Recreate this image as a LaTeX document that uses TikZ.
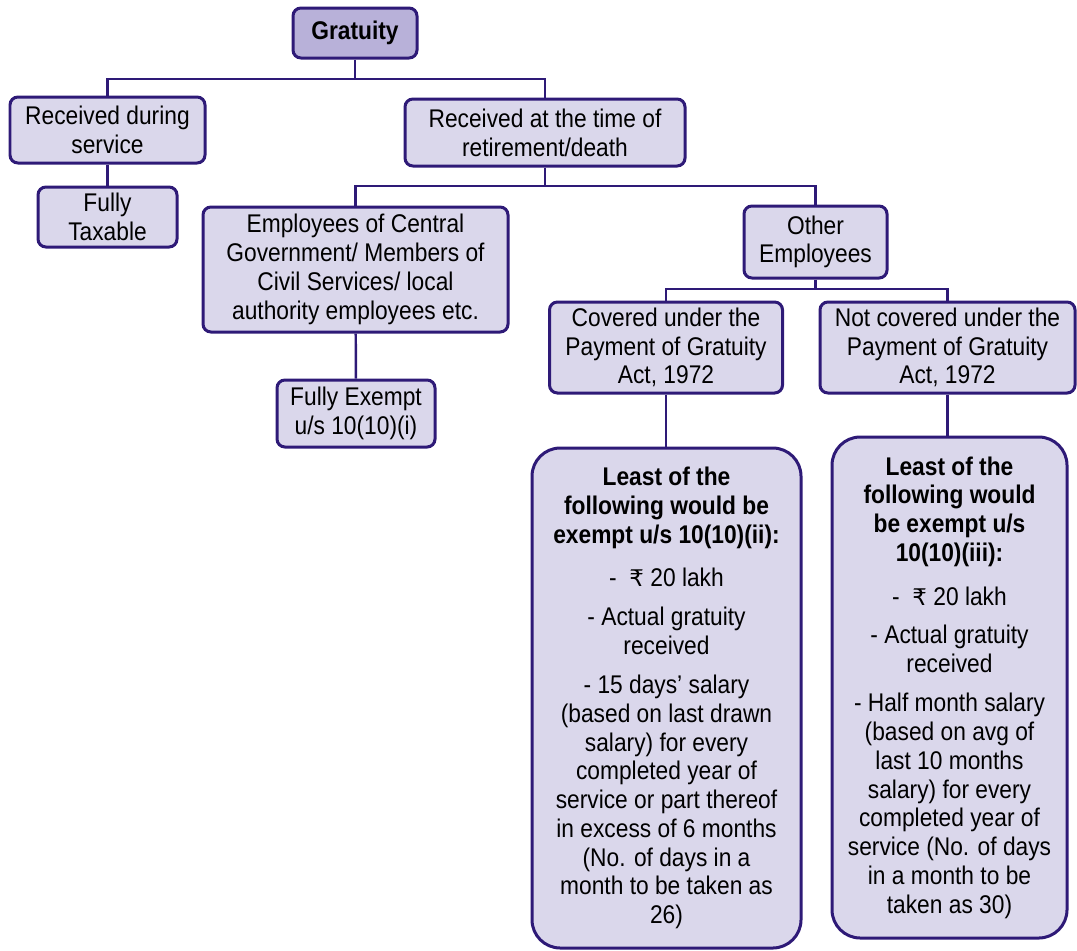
\documentclass[tikz,border=0pt]{standalone}
\usepackage{fontspec}
\setmainfont{Liberation Sans}[FakeStretch=0.89]
\newfontfamily\rupeefont{DejaVu Sans}
\usepackage{tikz}
\usetikzlibrary{calc}
\definecolor{navy-line}{HTML}{2E1A77}
\definecolor{lilac-fill}{HTML}{DAD7EB}
\definecolor{lilac-dark}{HTML}{B8B1D9}
\newcommand{\pu}{0.5669pt}
\newcommand{\rupee}{{\rupeefont\fontsize{13pt}{15pt}\selectfont ₹}}

\begin{document}
\begin{tikzpicture}[x=0.5669pt,y=-0.5669pt,
		card/.style 2 args={draw=navy-line,line width=1.7pt,fill=lilac-fill,
			rounded corners=4.5pt,inner sep=0pt,align=center,
			minimum width=#1*\pu,minimum height=#2*\pu,
			font=\fontsize{14.5pt}{16.3pt}\selectfont},
		bigcard/.style 2 args={card={#1}{#2},rounded corners=16pt},
		link/.style={draw=navy-line,line width=1.4pt}]
	\useasboundingbox (0,0) rectangle (1077,950);

	% Top level
	\node[card={124}{50},fill=lilac-dark,font=\fontsize{14.5pt}{16.3pt}\selectfont\bfseries]
		(gratuity) at (355,33) {Gratuity};
	\node[card={195}{66}] (during) at (107.5,130) {Received during\\service};
	\node[card={139}{60}] (taxable) at (107.5,217) {Fully\\Taxable};
	\node[card={280}{67}] (retire) at (545,132.5) {Received at the time of\\retirement/death};

	% Retirement branch
	\node[card={305}{125}] (govt) at (355.5,269.5)
		{Employees of Central\\Government/ Members of\\Civil Services/ local\\authority employees etc.};
	\node[card={158}{67}] (exempt) at (356,413.5) {Fully Exempt\\u/s 10(10)(i)};
	\node[card={143}{72}] (other) at (815.5,242) {Other\\Employees};
	\node[card={233}{91}] (covered) at (666,347.5) {Covered under the\\Payment of Gratuity\\Act, 1972};
	\node[card={255}{91}] (notcovered) at (947.5,347.5) {Not covered under the\\Payment of Gratuity\\Act, 1972};

	% Exemption limits
	\node[bigcard={269}{500}] (leastii) at (666.5,698)
		{\textbf{Least of the}\\\textbf{following would be}\\\textbf{exempt u/s 10(10)(ii):}\\[8.5pt]
		-\ \ \rupee\ 20 lakh\\[5.5pt]
		- Actual gratuity\\received\\[6pt]
		- 15 days' salary\\(based on last drawn\\salary) for every\\completed year of\\service or part thereof\\in excess of 6 months\\(No. of days in a\\month to be taken as\\26)};
	\node[bigcard={235}{501}] (leastiii) at (949.5,687.5)
		{\textbf{Least of the}\\\textbf{following would}\\\textbf{be exempt u/s}\\\textbf{10(10)(iii):}\\[8.5pt]
		-\ \ \rupee\ 20 lakh\\[5.5pt]
		- Actual gratuity\\received\\[6pt]
		- Half month salary\\(based on avg of\\last 10 months\\salary) for every\\completed year of\\service (No. of days\\in a month to be\\taken as 30)};

	% Connectors
	\coordinate (j1) at (355,79);
	\coordinate (j2) at (545,186);
	\coordinate (j3) at (815.5,289);
	\draw[link] (gratuity.south) -- (j1);
	\draw[link] (during) |- (j1) -| (retire);
	\draw[link] (during) -- (taxable);
	\draw[link] (retire.south) -- (j2);
	\draw[link] (govt) |- (j2) -| (other);
	\draw[link] (govt) -- (exempt);
	\draw[link] (other.south) -- (j3);
	\draw[link] (covered) |- (j3) -| (notcovered);
	\draw[link] (covered) -- (covered |- leastii.north);
	\draw[link] (notcovered) -- (notcovered |- leastiii.north);
\end{tikzpicture}
\end{document}
